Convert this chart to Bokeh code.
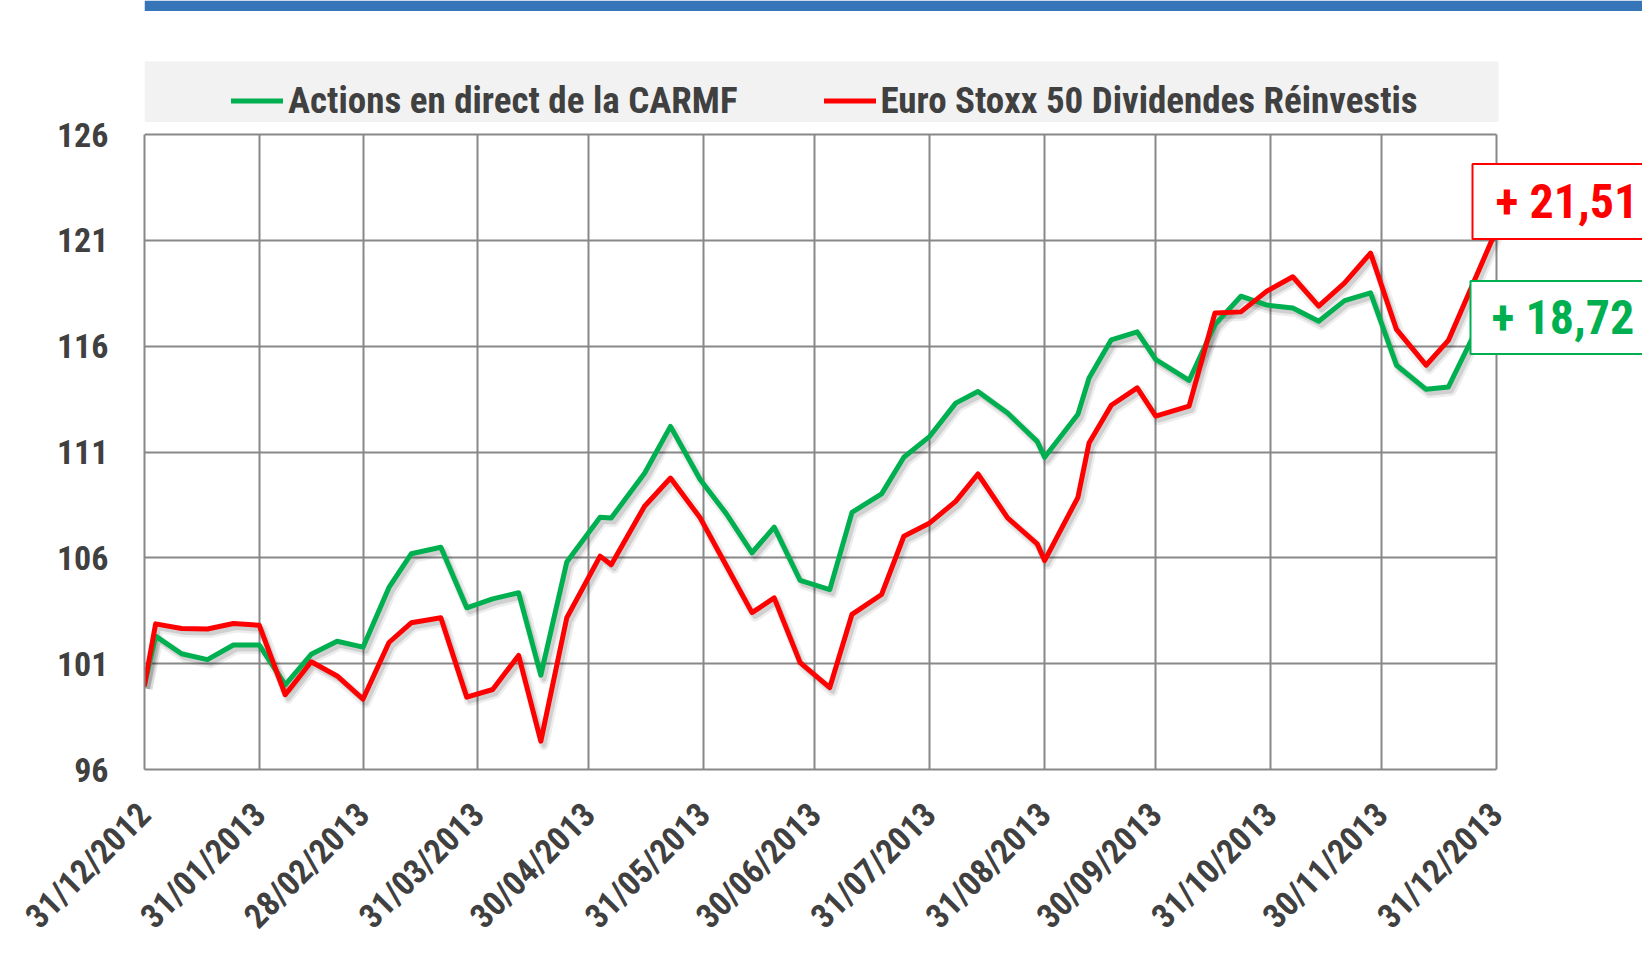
import math
import pandas as pd
from bokeh.plotting import figure
from bokeh.models import (FixedTicker, DatetimeTickFormatter, Legend, LegendItem,
                          Label, BoxAnnotation, Range1d)
from bokeh.embed import file_html
from bokeh.resources import INLINE

# ---------------- data ----------------
dates = [
    "2012-12-31", "2013-01-03", "2013-01-10", "2013-01-17", "2013-01-24", "2013-01-31",
    "2013-02-07", "2013-02-14", "2013-02-21", "2013-02-28", "2013-03-07", "2013-03-13",
    "2013-03-21", "2013-03-28", "2013-04-04", "2013-04-11", "2013-04-17", "2013-04-24",
    "2013-05-03", "2013-05-06", "2013-05-15", "2013-05-22", "2013-05-30", "2013-06-06",
    "2013-06-13", "2013-06-19", "2013-06-26", "2013-07-04", "2013-07-10", "2013-07-18",
    "2013-07-24", "2013-07-31", "2013-08-07", "2013-08-13", "2013-08-21", "2013-08-29",
    "2013-08-31", "2013-09-09", "2013-09-12", "2013-09-18", "2013-09-25", "2013-09-30",
    "2013-10-09", "2013-10-16", "2013-10-23", "2013-10-30", "2013-11-06", "2013-11-13",
    "2013-11-20", "2013-11-27", "2013-12-04", "2013-12-12", "2013-12-18", "2013-12-31",
]
carmf = [
    100.0, 102.3, 101.47, 101.19, 101.88, 101.88,
    100.0, 101.44, 102.06, 101.78, 104.6, 106.19,
    106.5, 103.64, 104.06, 104.35, 100.46, 105.8,
    107.92, 107.88, 110.0, 112.21, 109.7, 108.1,
    106.24, 107.45, 104.93, 104.5, 108.15, 109.02,
    110.75, 111.74, 113.31, 113.86, 112.84, 111.5,
    110.75, 112.78, 114.5, 116.3, 116.68, 115.37,
    114.38, 117.02, 118.36, 117.94, 117.8, 117.18,
    118.15, 118.52, 115.1, 113.96, 114.07, 118.72,
]
eurostoxx = [
    100.0, 102.88, 102.66, 102.64, 102.9, 102.81,
    99.53, 101.09, 100.42, 99.33, 102.0, 102.93,
    103.17, 99.42, 99.78, 101.39, 97.34, 103.17,
    106.08, 105.67, 108.44, 109.77, 107.89, 105.65,
    103.41, 104.11, 101.05, 99.87, 103.33, 104.27,
    107.02, 107.65, 108.67, 109.96, 107.89, 106.66,
    105.87, 108.86, 111.43, 113.21, 114.03, 112.69,
    113.17, 117.57, 117.62, 118.6, 119.28, 117.89,
    118.99, 120.4, 116.79, 115.1, 116.27, 121.51,
]
series_names = ["Actions en direct de la CARMF", "Euro Stoxx 50 Dividendes Réinvestis"]
end_labels = ["+ 18,72 %", "+ 21,51 %"]
tick_dates = [
    "2012-12-31", "2013-01-31", "2013-02-28", "2013-03-31", "2013-04-30", "2013-05-31",
    "2013-06-30", "2013-07-31", "2013-08-31", "2013-09-30", "2013-10-31", "2013-11-30",
    "2013-12-31",
]
y_ticks = [96, 101, 106, 111, 116, 121, 126]

# ---------------- layout (canvas pixels) ----------------
W, FRAME_LEFT, X_END_PX = 1642, 144, 1496      # frame runs to the canvas right edge
Y_TOP_PX, FRAME_BOTTOM = 134, 769               # frame starts at canvas top
BAND_TOP_PX, BAND_BOTTOM_PX = 61, 121.5         # grey legend band
BLUE_PX = 10.5
BOTTOM_BORDER = 183

FONT = ("'Liberation Sans Narrow', 'Roboto Condensed', 'Noto Sans Condensed', "
        "'Liberation Sans', sans-serif")
GREEN = "#00b050"
RED = "#ff0000"
TXT = "#404040"
GRID = "#888888"

x = pd.to_datetime(dates)
ticks_ms = [t.timestamp() * 1000.0 for t in pd.to_datetime(tick_dates)]
x0, x1 = x[0], x[-1]

ppd = (X_END_PX - FRAME_LEFT) / ((x1 - x0) / pd.Timedelta(days=1))
ppu = (FRAME_BOTTOM - Y_TOP_PX) / (y_ticks[-1] - y_ticks[0])
x_hi = x1 + pd.Timedelta(days=(W - X_END_PX) / ppd)
y_hi = y_ticks[-1] + Y_TOP_PX / ppu

p = figure(frame_width=W - FRAME_LEFT, frame_height=FRAME_BOTTOM,
           x_axis_type="datetime",
           x_range=Range1d(x0, x_hi), y_range=Range1d(y_ticks[0], y_hi),
           output_backend="svg", toolbar_location=None,
           min_border_left=FRAME_LEFT, min_border_right=0,
           min_border_top=0, min_border_bottom=BOTTOM_BORDER,
           background_fill_color="white", border_fill_color="white")
p.title.visible = False
p.outline_line_color = None

# shadow ranges (few pixels down-right)
sx = pd.Timedelta(days=3 / ppd)
sy = 4 / ppu
p.extra_x_ranges = {"sh": Range1d(x0 - sx, x_hi - sx)}
p.extra_y_ranges = {"sh": Range1d(y_ticks[0] + sy, y_hi + sy)}

# grey legend band + blue page band
p.add_layout(BoxAnnotation(left=x0, right=x1 + pd.Timedelta(days=2 / ppd),
                           bottom=y_ticks[-1] + (Y_TOP_PX - BAND_BOTTOM_PX) / ppu,
                           top=y_ticks[-1] + (Y_TOP_PX - BAND_TOP_PX) / ppu,
                           fill_color="#f2f2f2", fill_alpha=1.0, line_color=None,
                           level="underlay"))
p.add_layout(BoxAnnotation(bottom=y_hi - BLUE_PX / ppu,
                           fill_color="#3676b8", fill_alpha=1.0, line_color=None,
                           level="underlay"))

for vals in (carmf, eurostoxx):
    p.line(x, vals, x_range_name="sh", y_range_name="sh", line_color="#000000",
           line_alpha=0.07, line_width=10, line_join="round")
    p.line(x, vals, x_range_name="sh", y_range_name="sh", line_color="#000000",
           line_alpha=0.12, line_width=5, line_join="round")

r_g = p.line(x, carmf, line_color=GREEN, line_width=5, line_join="round", line_cap="round")
r_r = p.line(x, eurostoxx, line_color=RED, line_width=5, line_join="round", line_cap="round")

# axes
p.xaxis.ticker = FixedTicker(ticks=ticks_ms)
fmt = "%d/%m/%Y"
p.xaxis.formatter = DatetimeTickFormatter(
    microseconds=fmt, milliseconds=fmt, seconds=fmt, minsec=fmt, minutes=fmt,
    hourmin=fmt, hours=fmt, days=fmt, months=fmt, years=fmt)
p.xaxis.major_label_orientation = math.pi / 4
p.xaxis.major_label_standoff = 39
p.xaxis.bounds = (x0.to_pydatetime(), x1.to_pydatetime())
p.yaxis.ticker = FixedTicker(ticks=y_ticks)
p.yaxis.major_label_standoff = 36
p.yaxis.bounds = (y_ticks[0], y_ticks[-1])

for ax in (p.xaxis[0], p.yaxis[0]):
    ax.major_label_text_font = FONT
    ax.major_label_text_font_size = "34px"
    ax.major_label_text_font_style = "bold"
    ax.major_label_text_color = TXT
    ax.major_tick_out = 0
    ax.major_tick_in = 0
    ax.minor_tick_out = 0
    ax.minor_tick_in = 0
    ax.axis_line_color = GRID
    ax.axis_line_width = 2

p.xgrid.ticker = FixedTicker(ticks=ticks_ms)
p.xgrid.cross_bounds = (y_ticks[0], y_ticks[-1])
p.ygrid.ticker = FixedTicker(ticks=y_ticks)
p.ygrid.cross_bounds = (ticks_ms[0], ticks_ms[-1])
for g in (p.xgrid[0], p.ygrid[0]):
    g.grid_line_color = GRID
    g.grid_line_width = 2

legend = Legend(items=[LegendItem(label=series_names[0], renderers=[r_g]),
                       LegendItem(label=series_names[1], renderers=[r_r])],
                orientation="horizontal",
                location=(87, FRAME_BOTTOM - BAND_BOTTOM_PX),
                label_text_font=FONT, label_text_font_size="37px",
                label_text_font_style="bold", label_text_color=TXT,
                glyph_width=52, glyph_height=41, label_height=41,
                label_standoff=5, spacing=86, padding=10, margin=0,
                background_fill_alpha=0.0, border_line_color=None)
p.add_layout(legend)

# end value boxes
p.add_layout(Label(x=x1, y=eurostoxx[-1], text=end_labels[1], x_offset=-24, y_offset=28,
                   text_align="left", text_baseline="middle",
                   text_font=FONT, text_font_size="48px", text_font_style="bold",
                   text_color=RED, background_fill_color="white",
                   border_line_color=RED, border_line_width=2,
                   padding=dict(left=23, right=40, top=9, bottom=9)))
p.add_layout(Label(x=x1, y=carmf[-1], text=end_labels[0], x_offset=-26, y_offset=-29,
                   text_align="left", text_baseline="middle",
                   text_font=FONT, text_font_size="48px", text_font_style="bold",
                   text_color=GREEN, background_fill_color="white",
                   border_line_color=GREEN, border_line_width=2,
                   padding=dict(left=21, right=40, top=8, bottom=8)))

open("out.html", "w").write(file_html(p, INLINE))
